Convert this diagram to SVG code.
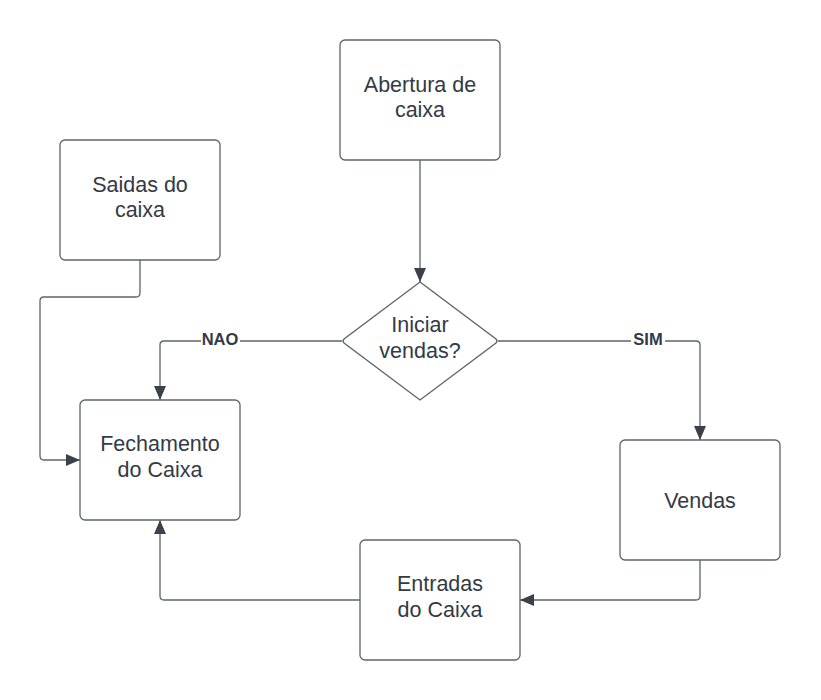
<svg xmlns="http://www.w3.org/2000/svg" width="821" height="700" viewBox="0 0 821 700">
<defs>
<marker id="arr" markerUnits="userSpaceOnUse" markerWidth="16" markerHeight="14" refX="14" refY="6" orient="auto">
<path d="M0,0 L14,6 L0,12 Z" fill="#3a414a"/>
</marker>
</defs>
<style>
.box{fill:#fff;stroke:#5f6368;stroke-width:1.3}
.t{font-family:"Liberation Sans",Arial,sans-serif;font-size:21.5px;fill:#333a45;text-anchor:middle}
.c{fill:none;stroke:#5f6368;stroke-width:1.3}
.lbl{font-family:"Liberation Sans",Arial,sans-serif;font-size:16.5px;font-weight:bold;fill:#333a45;text-anchor:middle}
</style>
<rect width="821" height="700" fill="#fff"/>
<g id="connectors">
<path class="c" d="M420,160 V282" marker-end="url(#arr)"/>
<path class="c" d="M342,341 H164 Q160,341 160,345 V400" marker-end="url(#arr)"/>
<path class="c" d="M498,341 H696 Q700,341 700,345 V440" marker-end="url(#arr)"/>
<path class="c" d="M140,260 V293 Q140,297 136,297 H44 Q40,297 40,301 V456 Q40,460 44,460 H80" marker-end="url(#arr)"/>
<path class="c" d="M700,560 V596 Q700,600 696,600 H520" marker-end="url(#arr)"/>
<path class="c" d="M360,600 H164 Q160,600 160,596 V520" marker-end="url(#arr)"/>
<rect x="201" y="332" width="39" height="18" fill="#fff"/>
<text class="lbl" x="220" y="344.5">NAO</text>
<rect x="631" y="332" width="34" height="18" fill="#fff"/>
<text class="lbl" x="648" y="344.5">SIM</text>
</g>
<g id="abertura">
<rect class="box" x="340" y="40" width="160" height="120" rx="5"/>
<text class="t" x="420" y="91.5">Abertura de</text>
<text class="t" x="420" y="117">caixa</text>
</g>
<g id="saidas">
<rect class="box" x="60" y="140" width="160" height="120" rx="5"/>
<text class="t" x="140" y="191.5">Saidas do</text>
<text class="t" x="140" y="217">caixa</text>
</g>
<g id="decisao">
<path class="box" d="M420,282 L496,339 Q498,341 496,343 L420,400 L344,343 Q342,341 344,339 Z"/>
<text class="t" x="420" y="332">Iniciar</text>
<text class="t" x="420" y="357.5">vendas?</text>
</g>
<g id="fechamento">
<rect class="box" x="80" y="400" width="160" height="120" rx="5"/>
<text class="t" x="160" y="451">Fechamento</text>
<text class="t" x="160" y="476.5">do Caixa</text>
</g>
<g id="vendas">
<rect class="box" x="620" y="440" width="160" height="120" rx="5"/>
<text class="t" x="700" y="508">Vendas</text>
</g>
<g id="entradas">
<rect class="box" x="360" y="540" width="160" height="120" rx="5"/>
<text class="t" x="440" y="591">Entradas</text>
<text class="t" x="440" y="616.5">do Caixa</text>
</g>
</svg>
